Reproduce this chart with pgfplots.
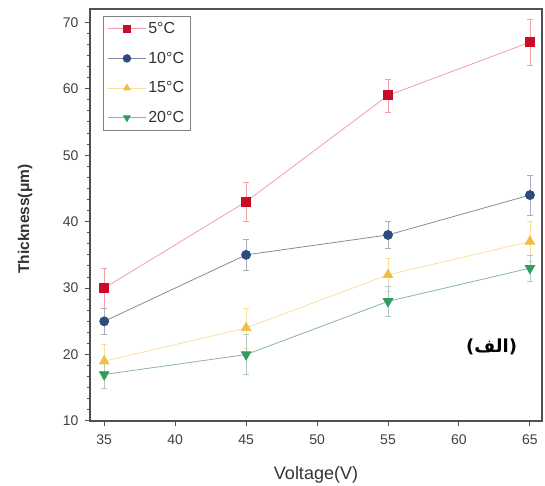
\documentclass[border=0pt]{standalone}
\usepackage{fontspec}
\setmainfont{Liberation Sans}
\newfontfamily\arabicfont[Script=Arabic]{DejaVu Sans}
\TeXXeTstate=1
\usepackage{pgfplots}
\pgfplotsset{compat=1.18}
\definecolor{mred}{RGB}{200,12,40}
\definecolor{lred}{RGB}{242,160,165}
\definecolor{mblue}{RGB}{45,75,125}
\definecolor{lblue}{RGB}{130,140,160}
\definecolor{myel}{RGB}{238,192,70}
\definecolor{lyel}{RGB}{250,222,160}
\definecolor{mgreen}{RGB}{50,155,95}
\definecolor{lgreen}{RGB}{140,180,165}
\definecolor{axgray}{RGB}{80,80,80}
\begin{document}
\begin{tikzpicture}
\useasboundingbox (-90pt,-65pt) rectangle (455pt,421pt);
\begin{axis}[
  at={(0pt,0pt)}, anchor=south west,
  scale only axis, width=452pt, height=412pt,
  xmin=34, xmax=65.85, ymin=10, ymax=72,
  xtick={35,40,...,65}, ytick={10,20,...,70},
  minor y tick num=5,
  xtick pos=bottom, ytick pos=left,
  tick align=outside,
  major tick length=5pt, minor tick length=3pt,
  axis line style={axgray, line width=1.2pt},
  every tick/.style={axgray, line width=1pt},
  /pgf/number format/assume math mode=true,
  ticklabel style={font=\fontsize{14}{16}\selectfont, text=black!75},
  xticklabel style={yshift=-5pt},
  yticklabel style={xshift=-3pt},
  xlabel={Voltage(V)},
  ylabel={\bfseries Thickness(μm)},
  xlabel style={at={(axis description cs:0.5,-0.131)}, anchor=center, font=\fontsize{18}{20}\selectfont, text=black!80},
  ylabel style={at={(axis description cs:-0.1438,0.49)}, anchor=center, font=\fontsize{15.5}{17}\selectfont, text=black!80},
  legend style={at={(0.029,0.983)}, anchor=north west, draw=black!50, line width=0.8pt,
    font=\fontsize{16}{18}\selectfont, text=black!80, row sep=13pt, inner sep=4pt,
    cells={anchor=west}},
  legend image code/.code={\draw[mark repeat=2,mark phase=2, mark size=3.8pt] plot coordinates {(0pt,0pt) (19pt,0pt) (38pt,0pt)};},
  error bars/y dir=both, error bars/y explicit,
  error bars/error mark options={rotate=90, mark size=3pt},
]
\addplot[lred, line width=0.8pt, mark=square*, mark size=4.5pt, mark options={fill=mred, draw=mred},
  error bars/error bar style={lred, line width=0.8pt}]
  coordinates {(35,30) +- (0,3) (45,43) +- (0,3) (55,59) +- (0,2.5) (65,67) +- (0,3.5)};
\addlegendentry{5°C}
\addplot[lblue, line width=0.8pt, mark=*, mark size=4.5pt, mark options={fill=mblue, draw=mblue},
  error bars/error bar style={lblue!70, line width=0.8pt}]
  coordinates {(35,25) +- (0,2) (45,35) +- (0,2.3) (55,38) +- (0,2) (65,44) +- (0,3)};
\addlegendentry{10°C}
\addplot[lyel, line width=0.8pt, mark=triangle*, mark size=5.5pt, mark options={fill=myel, draw=myel},
  error bars/error bar style={lyel, line width=0.8pt}]
  coordinates {(35,19) +- (0,2.5) (45,24) +- (0,3) (55,32) +- (0,2.5) (65,37) +- (0,3)};
\addlegendentry{15°C}
\addplot[lgreen, line width=0.8pt, mark=triangle*, mark size=5.5pt, mark options={fill=mgreen, draw=mgreen, rotate=180},
  error bars/error bar style={lgreen!70, line width=0.8pt}]
  coordinates {(35,17) +- (0,2) (45,20) +- (0,3) (55,28) +- (0,2.3) (65,33) +- (0,2)};
\addlegendentry{20°C}
\node[font=\arabicfont\bfseries\fontsize{18}{20}\selectfont] at (axis cs:62.3,21.1) {\beginR(الف)\endR};
\end{axis}
\end{tikzpicture}
\end{document}
